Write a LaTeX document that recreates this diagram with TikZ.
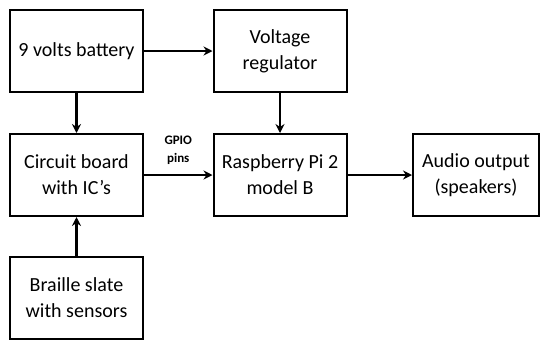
\documentclass[tikz,border=0pt]{standalone}
\usepackage{fontspec}
\setmainfont{Carlito}
\usetikzlibrary{positioning, arrows.meta}

\begin{document}
\begin{tikzpicture}[
    x=1pt, y=-1pt,
    >={Stealth[length=9pt, width=9pt, inset=3pt]},
    every node/.style={font=\fontsize{20}{26}\selectfont},
    block/.style={
        draw, line width=2pt, minimum width=133pt, minimum height=82pt,
        inner sep=0pt, align=center
    },
    link/.style={->, line width=2.8pt},
    tag/.style={align=center, font=\fontsize{13}{18}\selectfont\bfseries},
]
\useasboundingbox (0,0) rectangle (541,341);

% =====================================================================
%  TOP ROW:  power supply
% =====================================================================
\node[block] (bat) at (76.5, 51)  {9 volts battery};
\node[block] (reg) at (280, 51)   {Voltage\\regulator};

% =====================================================================
%  MIDDLE ROW:  processing chain
% =====================================================================
\node[block] (cb)  at (76.5, 175) {Circuit board\\with IC's};
\node[block] (rpi) at (280, 175)  {Raspberry Pi 2\\model B};
\node[block, minimum width=126pt] (aud) at (476, 175) {Audio output\\(speakers)};

% =====================================================================
%  BOTTOM ROW:  input
% =====================================================================
\node[block] (brl) at (76.5, 297.5) {Braille slate\\with sensors};

% Connections
\draw[link] (bat.east) -- (reg.west);
\draw[link] (bat) -- (cb);
\draw[link] (reg) -- (rpi);
\draw[link] (cb.east) -- node[tag, above=6pt] {GPIO\\pins} (rpi.west);
\draw[link] (rpi.east) -- (aud.west);
\draw[link] (brl) -- (cb);

\end{tikzpicture}
\end{document}
